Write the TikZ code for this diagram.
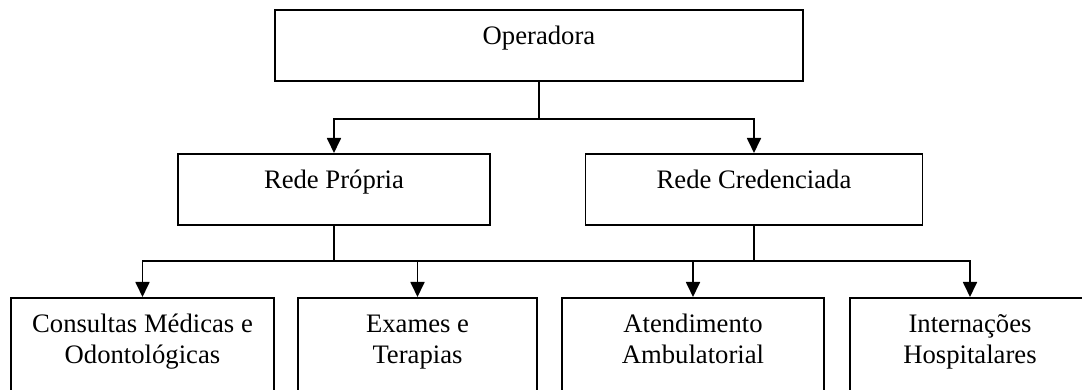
\documentclass[tikz,border=0pt]{standalone}
\usepackage{fontspec}
\setmainfont{Liberation Serif}
\usetikzlibrary{arrows.meta}

\tikzset{
  box/.style={draw, line width=0.8pt, anchor=north, inner xsep=0pt, inner ysep=0pt,
    align=center, text height=15.75pt, text depth=16.2pt,
    font=\fontsize{12pt}{14pt}\selectfont},
  tall/.style={text height=29.7pt, text depth=45pt},
  conn/.style={draw, line width=0.8pt, -{Triangle[length=6.75pt,width=6.3pt]}}
}

\begin{document}
\begin{tikzpicture}[x=0.45pt, y=-0.45pt]
\useasboundingbox (0,0) rectangle (1082,390);
\clip (0,0) rectangle (1082,390);

\node[box, minimum width=237.6pt] (op) at (539,9) {Operadora};

\node[box, minimum width=140.4pt] (rp) at (334,153) {Rede Própria};
\node[box, minimum width=151.65pt] (rc) at (754,153) {Rede Credenciada};

\node[box, tall, minimum width=118.35pt] (cm) at (142.5,297) {Consultas Médicas e\\Odontológicas};
\node[box, tall, minimum width=107.55pt] (et) at (417.5,297) {Exames e\\Terapias};
\node[box, tall, minimum width=117.9pt] (aa) at (693,297) {Atendimento\\Ambulatorial};
\node[box, tall, minimum width=108pt] (ih) at (970,297) {Internações\\Hospitalares};

\coordinate (bus) at (0,261);

\path[conn] (op.south) -- ++(0,37) -| (rp.north);
\path[conn] (op.south) -- ++(0,37) -| (rc.north);

\path[draw,line width=0.8pt] (cm.north |- bus) -- (ih.north |- bus);
\path[conn] (rp.south) |- (cm.north |- bus) -- (cm.north);
\path[conn] (rp.south) |- (et.north |- bus) -- (et.north);
\path[conn] (rc.south) |- (aa.north |- bus) -- (aa.north);
\path[conn] (rc.south) |- (ih.north |- bus) -- (ih.north);
\end{tikzpicture}
\end{document}
